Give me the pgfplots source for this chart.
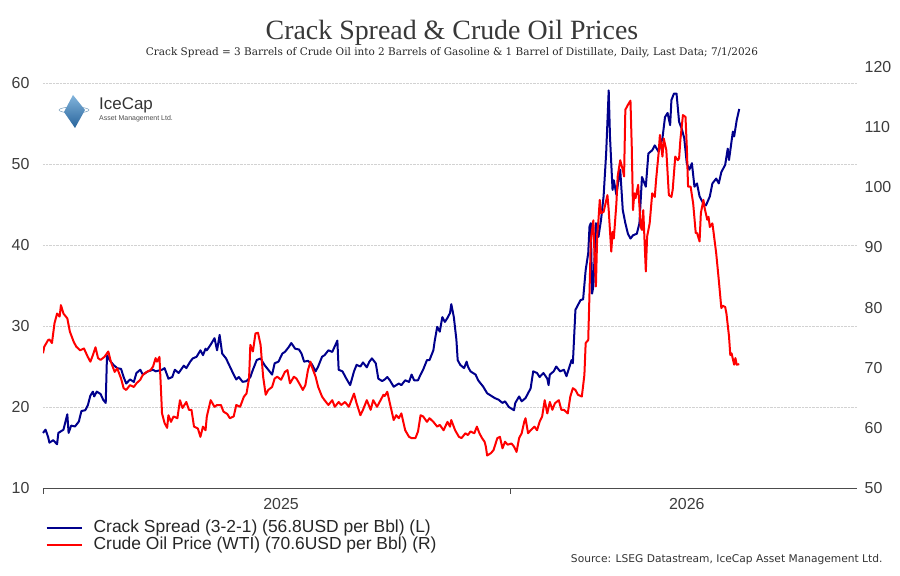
\documentclass[border=0pt]{standalone}
\usepackage{fontspec}
\setmainfont{Liberation Sans}
\newfontfamily\titlefont{Liberation Serif}
\newfontfamily\subfont{DejaVu Serif}
\newfontfamily\notefont{DejaVu Sans}
\usepackage{pgfplots}
\usepackage{pgfplotstable}
\pgfplotsset{compat=1.18}

\definecolor{crack}{RGB}{0,0,140}
\definecolor{crude}{RGB}{255,0,0}
\definecolor{gridgray}{RGB}{210,210,210}
\definecolor{labelgray}{RGB}{60,60,60}
\definecolor{icedark}{RGB}{40,100,155}
\definecolor{icelight}{RGB}{130,180,220}

% x = days since 1 Jan 2025, y = USD per barrel
\pgfplotstableread{
day crack
0 16.8
2 17.2
4 16.3
5 15.6
8 15.9
11 15.4
12 16.8
16 17.2
19 19.1
20 16.8
22 17.7
25 17.6
28 18.2
30 19.5
33 19.6
35 20.2
37 21.4
39 21.9
40 21.3
42 21.9
45 21.6
47 20.9
49 20.5
50 26.4
52 25.8
55 25.2
58 24.8
61 24.7
63 23.7
65 22.9
68 23.4
71 23.1
73 24.2
76 24.6
78 24.0
82 24.4
86 24.6
88 24.4
93 24.6
95 24.8
98 23.5
101 23.7
103 24.6
106 24.2
110 25.1
112 24.8
115 25.6
117 26.0
120 26.2
123 27.0
125 26.4
127 27.2
128 27.0
131 27.7
134 28.5
136 27.0
138 28.9
140 26.6
143 26.0
146 25.0
149 24.0
151 23.4
153 23.7
156 23.1
159 23.2
162 23.7
164 24.6
167 25.8
170 26.0
173 25.2
176 24.6
179 24.0
181 25.4
184 25.6
187 26.6
189 26.8
192 27.4
194 27.9
197 27.2
200 27.1
202 26.6
204 25.6
207 25.7
210 25.3
213 24.4
215 25.0
218 26.2
220 26.4
223 27.0
226 26.8
228 27.5
230 28.2
231 24.6
234 24.4
237 23.5
240 22.7
243 24.4
245 25.2
248 25.0
250 25.5
253 24.9
255 25.6
257 26.0
260 25.4
262 23.5
265 23.2
267 23.4
269 23.7
271 23.3
274 22.5
278 22.9
280 22.7
283 23.3
286 23.1
288 24.0
290 23.3
293 23.3
295 24.0
297 24.6
300 25.8
302 25.8
305 27.0
306 28.1
308 29.9
310 29.3
312 31.1
314 30.5
316 31.0
318 31.6
319 32.7
321 31.1
323 28.3
324 25.8
326 25.2
329 24.8
331 25.6
332 25.0
334 24.4
338 24.0
340 23.3
344 22.5
347 21.7
351 21.3
353 21.1
356 20.9
359 20.5
361 20.7
364 20.0
368 19.6
369 20.5
372 21.3
374 20.7
377 21.1
379 21.7
381 22.3
383 24.4
386 24.2
388 23.7
391 24.2
394 23.5
395 22.7
396 24.0
399 24.4
401 25.0
404 24.4
407 24.6
409 23.8
411 24.8
413 25.8
414 25.4
416 32.0
418 32.6
420 33.2
422 33.3
424 36.9
426 39.0
427 42.3
428 42.7
429 34.0
430 34.9
432 42.7
434 41.0
436 43.1
438 46.0
440 51.3
442 59.1
443 53.4
445 46.8
446 48.0
448 46.2
450 48.4
451 49.3
453 44.3
455 42.7
457 41.4
459 40.8
461 41.2
464 41.4
466 42.7
468 48.4
471 47.2
473 51.3
476 51.7
478 52.3
481 51.5
484 53.2
486 55.8
488 56.3
490 54.8
491 57.9
493 58.7
495 58.7
497 55.2
499 54.4
501 53.2
503 50.1
505 49.3
507 50.1
509 47.2
511 47.6
513 46.0
516 45.1
518 44.9
521 46.0
523 47.6
526 48.2
528 47.6
530 49.0
533 49.9
535 51.9
536 50.5
539 54.0
540 53.4
542 55.4
544 56.8
}\crackdata

\pgfplotstableread{
day wti
0 72.4
1 73.5
4 74.6
5 74.7
7 74.1
9 77.4
11 79.0
13 78.5
14 80.4
16 79.0
19 78.2
21 76.0
24 74.3
26 73.5
29 72.9
32 73.2
35 71.8
37 71.0
39 72.1
41 73.4
43 71.6
45 71.3
48 71.8
51 72.7
53 71.0
56 69.3
58 69.9
61 68.2
63 66.6
65 66.3
68 67.1
71 66.8
73 67.4
76 68.0
78 68.8
81 69.3
84 69.6
86 70.2
88 71.6
89 71.0
91 71.8
93 62.4
95 60.8
97 60.0
98 62.1
100 61.0
102 61.9
105 61.6
107 64.6
109 63.3
112 64.3
114 63.0
116 63.0
118 60.2
121 59.9
123 58.5
125 60.2
127 59.6
128 61.9
131 64.6
134 63.5
136 63.8
139 63.8
141 62.7
144 62.3
146 61.6
149 61.9
151 63.8
154 63.5
157 65.2
159 65.7
161 68.2
162 73.8
164 72.7
166 75.7
168 75.8
170 73.8
172 68.5
174 65.5
176 66.3
179 66.8
181 68.2
183 68.5
186 68.0
189 69.3
191 69.6
193 67.4
196 68.5
198 68.2
201 67.1
203 66.3
205 67.1
207 69.6
209 71.0
210 70.2
213 68.5
215 66.8
218 65.2
220 64.6
223 63.8
226 64.6
228 63.5
231 64.3
233 63.8
236 64.3
239 63.5
241 64.6
243 65.7
245 64.1
248 62.1
250 63.0
253 64.6
256 63.0
258 64.6
261 63.5
263 64.3
266 65.5
267 65.3
269 66.0
271 64.1
274 61.3
276 62.1
278 61.6
280 62.4
283 59.6
286 58.5
288 58.3
291 58.3
293 59.4
295 62.1
297 61.9
300 61.0
302 61.6
305 61.0
308 60.2
310 60.5
313 59.6
316 61.0
318 60.2
319 61.3
322 59.6
325 58.5
327 58.3
330 59.1
332 58.8
334 59.4
337 59.1
339 60.2
341 59.1
343 58.3
345 57.7
346 56.9
347 55.4
350 55.8
352 56.3
355 58.3
357 58.5
359 56.6
361 57.7
363 57.2
366 57.4
368 56.9
370 56.0
372 58.3
374 59.1
376 61.0
377 61.6
379 59.1
381 59.6
384 60.2
386 59.6
388 61.0
390 61.9
392 64.6
394 62.4
396 64.3
398 63.0
400 64.1
403 64.6
405 63.0
407 63.0
410 62.4
412 65.2
414 66.6
416 66.3
418 65.5
421 65.2
423 68.8
424 74.1
426 74.6
427 82.4
428 91.2
430 94.5
431 88.0
432 83.5
433 92.0
434 94.6
435 97.9
436 95.7
438 95.9
441 98.7
442 96.2
444 89.3
445 92.6
446 91.5
448 97.3
449 101.8
451 104.5
453 102.9
454 101.8
455 112.9
457 113.7
459 114.4
460 106.8
461 96.2
462 99.0
463 98.2
465 100.4
467 93.4
468 92.9
469 96.2
471 86.0
472 91.8
474 94.0
476 99.0
478 98.4
479 101.2
481 105.7
482 108.7
484 105.1
485 108.1
487 106.2
489 98.7
491 98.4
492 99.6
494 105.1
496 104.5
497 104.8
498 107.9
500 112.0
502 111.7
503 106.8
504 100.1
506 100.1
508 97.3
510 92.4
511 92.4
513 91.0
514 95.7
516 97.9
517 96.5
519 94.6
520 95.1
521 93.4
523 94.0
524 92.4
526 89.0
528 84.6
530 79.9
531 80.3
533 80.1
534 79.0
536 75.2
537 72.1
538 72.4
540 70.5
541 71.6
542 70.5
544 70.6
}\wtidata

\begin{document}
\begin{tikzpicture}[x=1bp,y=1bp]
\path[use as bounding box] (0bp,0bp) rectangle (900bp,576bp);

\pgfplotsset{
  twin/.style={
    scale only axis, width=814bp, height=421bp,
    at={(43bp,88bp)}, anchor=south west,
    xmin=0, xmax=636,
    /pgf/number format/assume math mode=true,
    tick label style={font=\fontsize{16}{16}\selectfont, text=labelgray},
  }
}

% left axis: crack spread
\begin{axis}[twin,
  ymin=10, ymax=61.98,
  axis x line=bottom, axis y line=left,
  x axis line style={-, draw=black!70, line width=0.9bp},
  y axis line style={draw=none},
  ytick={10,20,...,60}, ytick style={draw=none},
  yticklabel style={xshift=-4bp},
  ymajorgrids, grid style={gridgray, densely dotted, line width=0.8bp},
  xtick={0,365}, xticklabels={}, tick align=outside,
  xtick style={draw=black!70, line width=0.8bp}, major tick length=6bp,
  clip=false]
\addplot[crack, line width=2bp, line join=round] table[x=day, y=crack] {\crackdata};
\node[anchor=north, font=\fontsize{16}{16}\selectfont, text=labelgray] at (axis cs:186,10) [yshift=-7bp] {2025};
\node[anchor=north, font=\fontsize{16}{16}\selectfont, text=labelgray] at (axis cs:503,10) [yshift=-7bp] {2026};
\end{axis}

% right axis: WTI crude
\begin{axis}[twin,
  ymin=50, ymax=120,
  axis x line=none, axis y line=right,
  y axis line style={draw=none},
  ytick={50,60,...,120}, ytick style={draw=none},
  yticklabel style={anchor=west, xshift=2bp},
  legend style={at={(axis description cs:0.003,-0.075)}, anchor=north west,
    draw=none, fill=none, font=\fontsize{17.5}{17.5}\selectfont, text=black!85,
    row sep=1bp, inner sep=0pt,
    nodes={inner sep=0pt, text height=12.5bp, text depth=3.5bp},
    /tikz/every odd column/.append style={column sep=11bp}},
  legend cell align=left,
  legend image code/.code={\draw[#1] (0bp,0bp) -- (35bp,0bp);}]
\addlegendimage{crack, line width=2bp}
\addlegendentry{Crack Spread (3-2-1) (56.8USD per Bbl) (L)}
\addplot[crude, line width=2bp, line join=round] table[x=day, y=wti] {\wtidata};
\addlegendentry{Crude Oil Price (WTI) (70.6USD per Bbl) (R)}
\end{axis}

% titles
\node[font=\titlefont\fontsize{28}{28}\selectfont, text=black!78] at (452bp,543bp) {Crack Spread \& Crude Oil Prices};
\node[font=\subfont\fontsize{10.5}{10.5}\selectfont, text=black!85] at (452bp,523bp) {Crack Spread = 3 Barrels of Crude Oil into 2 Barrels of Gasoline \& 1 Barrel of Distillate, Daily, Last Data; 7/1/2026};

% source line
\node[anchor=east, font=\notefont\fontsize{10.7}{10.7}\selectfont, text=black!80] at (886bp,16bp) {Source: LSEG Datastream, IceCap Asset Management Ltd.};

% logo
\draw[icelight!70!gray, line width=0.6bp] (74bp,466bp) ellipse [x radius=15bp, y radius=3bp];
\shade[top color=icelight, bottom color=icedark] (73bp,481bp) -- (85bp,466bp) -- (75bp,448bp) -- (64bp,464bp) -- cycle;
\node[anchor=west, font=\fontsize{17}{17}\selectfont, text=black!80, inner sep=0pt] at (99bp,471bp) {IceCap};
\node[anchor=west, font=\fontsize{7}{7}\selectfont, text=black!70, inner sep=0pt] at (99bp,457bp) {Asset Management Ltd.};
\end{tikzpicture}
\end{document}
